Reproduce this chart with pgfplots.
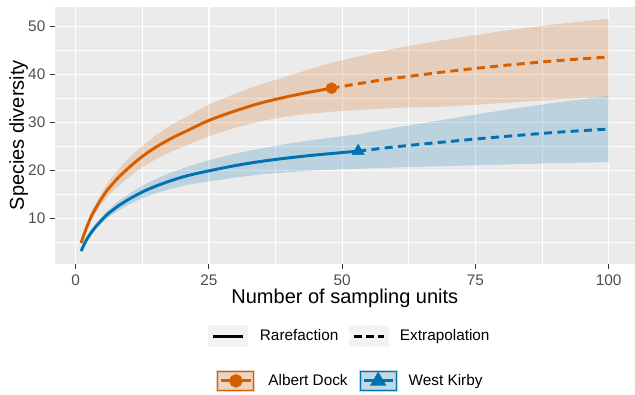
\documentclass[border=0pt]{standalone}
\usepackage{fontspec}
\setmainfont{Liberation Sans}
\usepackage{pgfplots}
\usepackage{pgfplotstable}
\pgfplotsset{compat=1.18}
\usepgfplotslibrary{fillbetween}

\definecolor{orangeC}{HTML}{D55E00}
\definecolor{blueC}{HTML}{0072B2}
\definecolor{panel}{HTML}{EBEBEB}
\definecolor{keybg}{HTML}{F2F2F2}
\definecolor{ticklab}{HTML}{4D4D4D}
\definecolor{tickcol}{HTML}{333333}

% Albert Dock
\pgfplotstableread{
n S lo hi
1 4.9 4.6 5.2
2 8.0 7.4 8.6
3 10.6 9.8 11.4
4 12.6 11.6 13.6
5 14.4 13.2 15.6
6 16.0 14.6 17.4
8 18.5 16.8 20.2
10 20.6 18.6 22.6
12.5 22.9 20.7 25.1
15 24.8 22.3 27.3
18 26.7 23.9 29.5
21 28.3 25.3 31.3
25 30.4 27.1 33.7
30 32.4 28.9 36.0
35 34.1 30.3 38.0
40 35.4 31.3 39.7
44 36.3 31.8 41.1
48 37.1 32.2 42.4
55 38.4 32.7 44.2
60 39.2 33.0 45.4
70 40.6 33.3 47.3
80 41.8 34.0 49.0
90 42.8 34.7 50.4
100 43.6 35.3 51.6
}\adTab

% West Kirby
\pgfplotstableread{
n S lo hi
1 3.2 3.0 3.4
2 5.5 5.1 5.9
3 7.2 6.7 7.7
4 8.6 8.0 9.2
5 9.8 9.1 10.5
6 10.9 10.1 11.7
8 12.6 11.6 13.6
10 14.0 12.9 15.1
12.5 15.5 14.2 16.8
15 16.7 15.2 18.2
18 17.9 16.2 19.6
21 18.9 17.0 20.8
25 19.9 17.7 22.1
30 21.0 18.5 23.5
35 21.9 19.2 24.6
40 22.6 19.6 25.6
45 23.2 20.0 26.4
50 23.7 20.2 27.1
53 24.0 20.3 27.5
60 24.9 20.6 28.9
70 26.0 20.9 30.7
80 27.0 21.2 32.5
90 27.9 21.5 34.1
100 28.6 21.7 35.5
}\wkTab

\begin{document}
\begin{tikzpicture}
\begin{axis}[
  at={(0,0)}, anchor=south west,
  scale only axis, width=435pt, height=193pt,
  xmin=-3.95, xmax=104.95, ymin=0.5, ymax=54.1,
  axis background/.style={fill=panel},
  axis line style={draw=none},
  xtick={0,25,50,75,100}, ytick={10,20,30,40,50},
  minor xtick={12.5,37.5,62.5,87.5}, minor ytick={5,15,25,35,45},
  grid=both,
  major grid style={white, line width=0.9pt},
  minor grid style={white, line width=0.45pt},
  tick style={tickcol, line width=0.8pt},
  major tick length=3.5pt, minor tick length=0pt,
  tick align=outside, xtick pos=bottom, ytick pos=left,
  ticklabel style={font=\fontsize{11.5}{13}\selectfont, text=ticklab},
  xticklabel style={yshift=-1pt},
  /pgf/number format/assume math mode=true,
  xlabel={Number of sampling units}, ylabel={Species diversity},
  label style={font=\fontsize{15}{18}\selectfont},
  xlabel style={at={(axis description cs:0.5,-0.133)}, anchor=center},
  ylabel style={at={(axis description cs:-0.062,0.5)}, anchor=center},
  legend style={at={(0.507,-0.280)}, anchor=center, draw=none, fill=none,
    legend columns=2, font=\fontsize{11.5}{13}\selectfont,
    nodes={inner sep=0pt},
    /tikz/column 1/.style={column sep=9pt},
    /tikz/column 2/.style={column sep=8.25pt},
    /tikz/column 3/.style={column sep=8.25pt}},
  legend cell align=left,
]
% bands
\addplot[draw=none, name path=adHi, forget plot] table[x=n, y=hi]{\adTab};
\addplot[draw=none, name path=adLo, forget plot] table[x=n, y=lo]{\adTab};
\addplot[fill=orangeC, fill opacity=0.2, draw=none, forget plot] fill between[of=adHi and adLo];
\addplot[draw=none, name path=wkHi, forget plot] table[x=n, y=hi]{\wkTab};
\addplot[draw=none, name path=wkLo, forget plot] table[x=n, y=lo]{\wkTab};
\addplot[fill=blueC, fill opacity=0.2, draw=none, forget plot] fill between[of=wkHi and wkLo];
% lines
\addplot[orangeC, line width=2.2pt, no marks, smooth, forget plot, restrict x to domain=1:48] table[x=n, y=S]{\adTab};
\addplot[orangeC, line width=2.2pt, no marks, smooth, forget plot, dash pattern=on 6pt off 4pt, restrict x to domain=48:100] table[x=n, y=S]{\adTab};
\addplot[blueC, line width=2.2pt, no marks, smooth, forget plot, restrict x to domain=1:53] table[x=n, y=S]{\wkTab};
\addplot[blueC, line width=2.2pt, no marks, smooth, forget plot, dash pattern=on 6pt off 4pt, restrict x to domain=53:100] table[x=n, y=S]{\wkTab};
% observed points
\addplot[only marks, mark=*, mark size=4.1pt, orangeC, forget plot] coordinates {(48,37.1)};
\addplot[only marks, mark=triangle*, mark size=5.2pt, blueC, forget plot] coordinates {(53,24.0)};
% legend 1
\addlegendimage{black, line width=2.2pt, legend image code/.code={
  \fill[keybg] (0pt,-7.25pt) rectangle (27.5pt,7.25pt);
  \draw (2.5pt,0pt) -- (25pt,0pt);}}
\addlegendentry{Rarefaction}
\addlegendimage{black, line width=2.2pt, dash pattern=on 5.5pt off 3.5pt, legend image code/.code={
  \fill[keybg] (0pt,-7.25pt) rectangle (27.5pt,7.25pt);
  \draw (2.5pt,0pt) -- (25pt,0pt);}}
\addlegendentry{Extrapolation}
\end{axis}
\begin{axis}[
  at={(0,0)}, anchor=south west,
  scale only axis, width=435pt, height=193pt,
  hide axis, xmin=0, xmax=1, ymin=0, ymax=1,
  legend style={at={(0.508,-0.454)}, anchor=center, draw=none, fill=none,
    legend columns=2, font=\fontsize{11.5}{13}\selectfont,
    nodes={inner sep=0pt},
    /tikz/column 1/.style={column sep=9.75pt},
    /tikz/column 2/.style={column sep=8.25pt},
    /tikz/column 3/.style={column sep=8.25pt}},
  legend cell align=left,
]
\addplot[draw=none, forget plot] coordinates {(0,0) (1,1)};
\addlegendimage{orangeC, line width=2.2pt, legend image code/.code={
  \fill[keybg] (0pt,-7pt) rectangle (27pt,7pt);
  \fill[orangeC, opacity=0.2] (0pt,-7pt) rectangle (27pt,7pt);
  \draw[orangeC, line width=0.8pt] (0pt,-7pt) rectangle (27pt,7pt);
  \draw[orangeC, line width=2.2pt] (2.5pt,0pt) -- (24.5pt,0pt);
  \fill[orangeC] (13.5pt,0pt) circle (3.9pt);}}
\addlegendentry{Albert Dock}
\addlegendimage{blueC, line width=2.2pt, legend image code/.code={
  \fill[keybg] (0pt,-7pt) rectangle (27pt,7pt);
  \fill[blueC, opacity=0.2] (0pt,-7pt) rectangle (27pt,7pt);
  \draw[blueC, line width=0.8pt] (0pt,-7pt) rectangle (27pt,7pt);
  \draw[blueC, line width=2.2pt] (2.5pt,0pt) -- (24.5pt,0pt);
  \fill[blueC] (13.5pt,4.8pt) -- (9.3pt,-2.4pt) -- (17.7pt,-2.4pt) -- cycle;}}
\addlegendentry{West Kirby}
\end{axis}
\pgfresetboundingbox
\path[use as bounding box] (-41pt,-97.5pt) rectangle (435pt,197.9pt);
\end{tikzpicture}
\end{document}
